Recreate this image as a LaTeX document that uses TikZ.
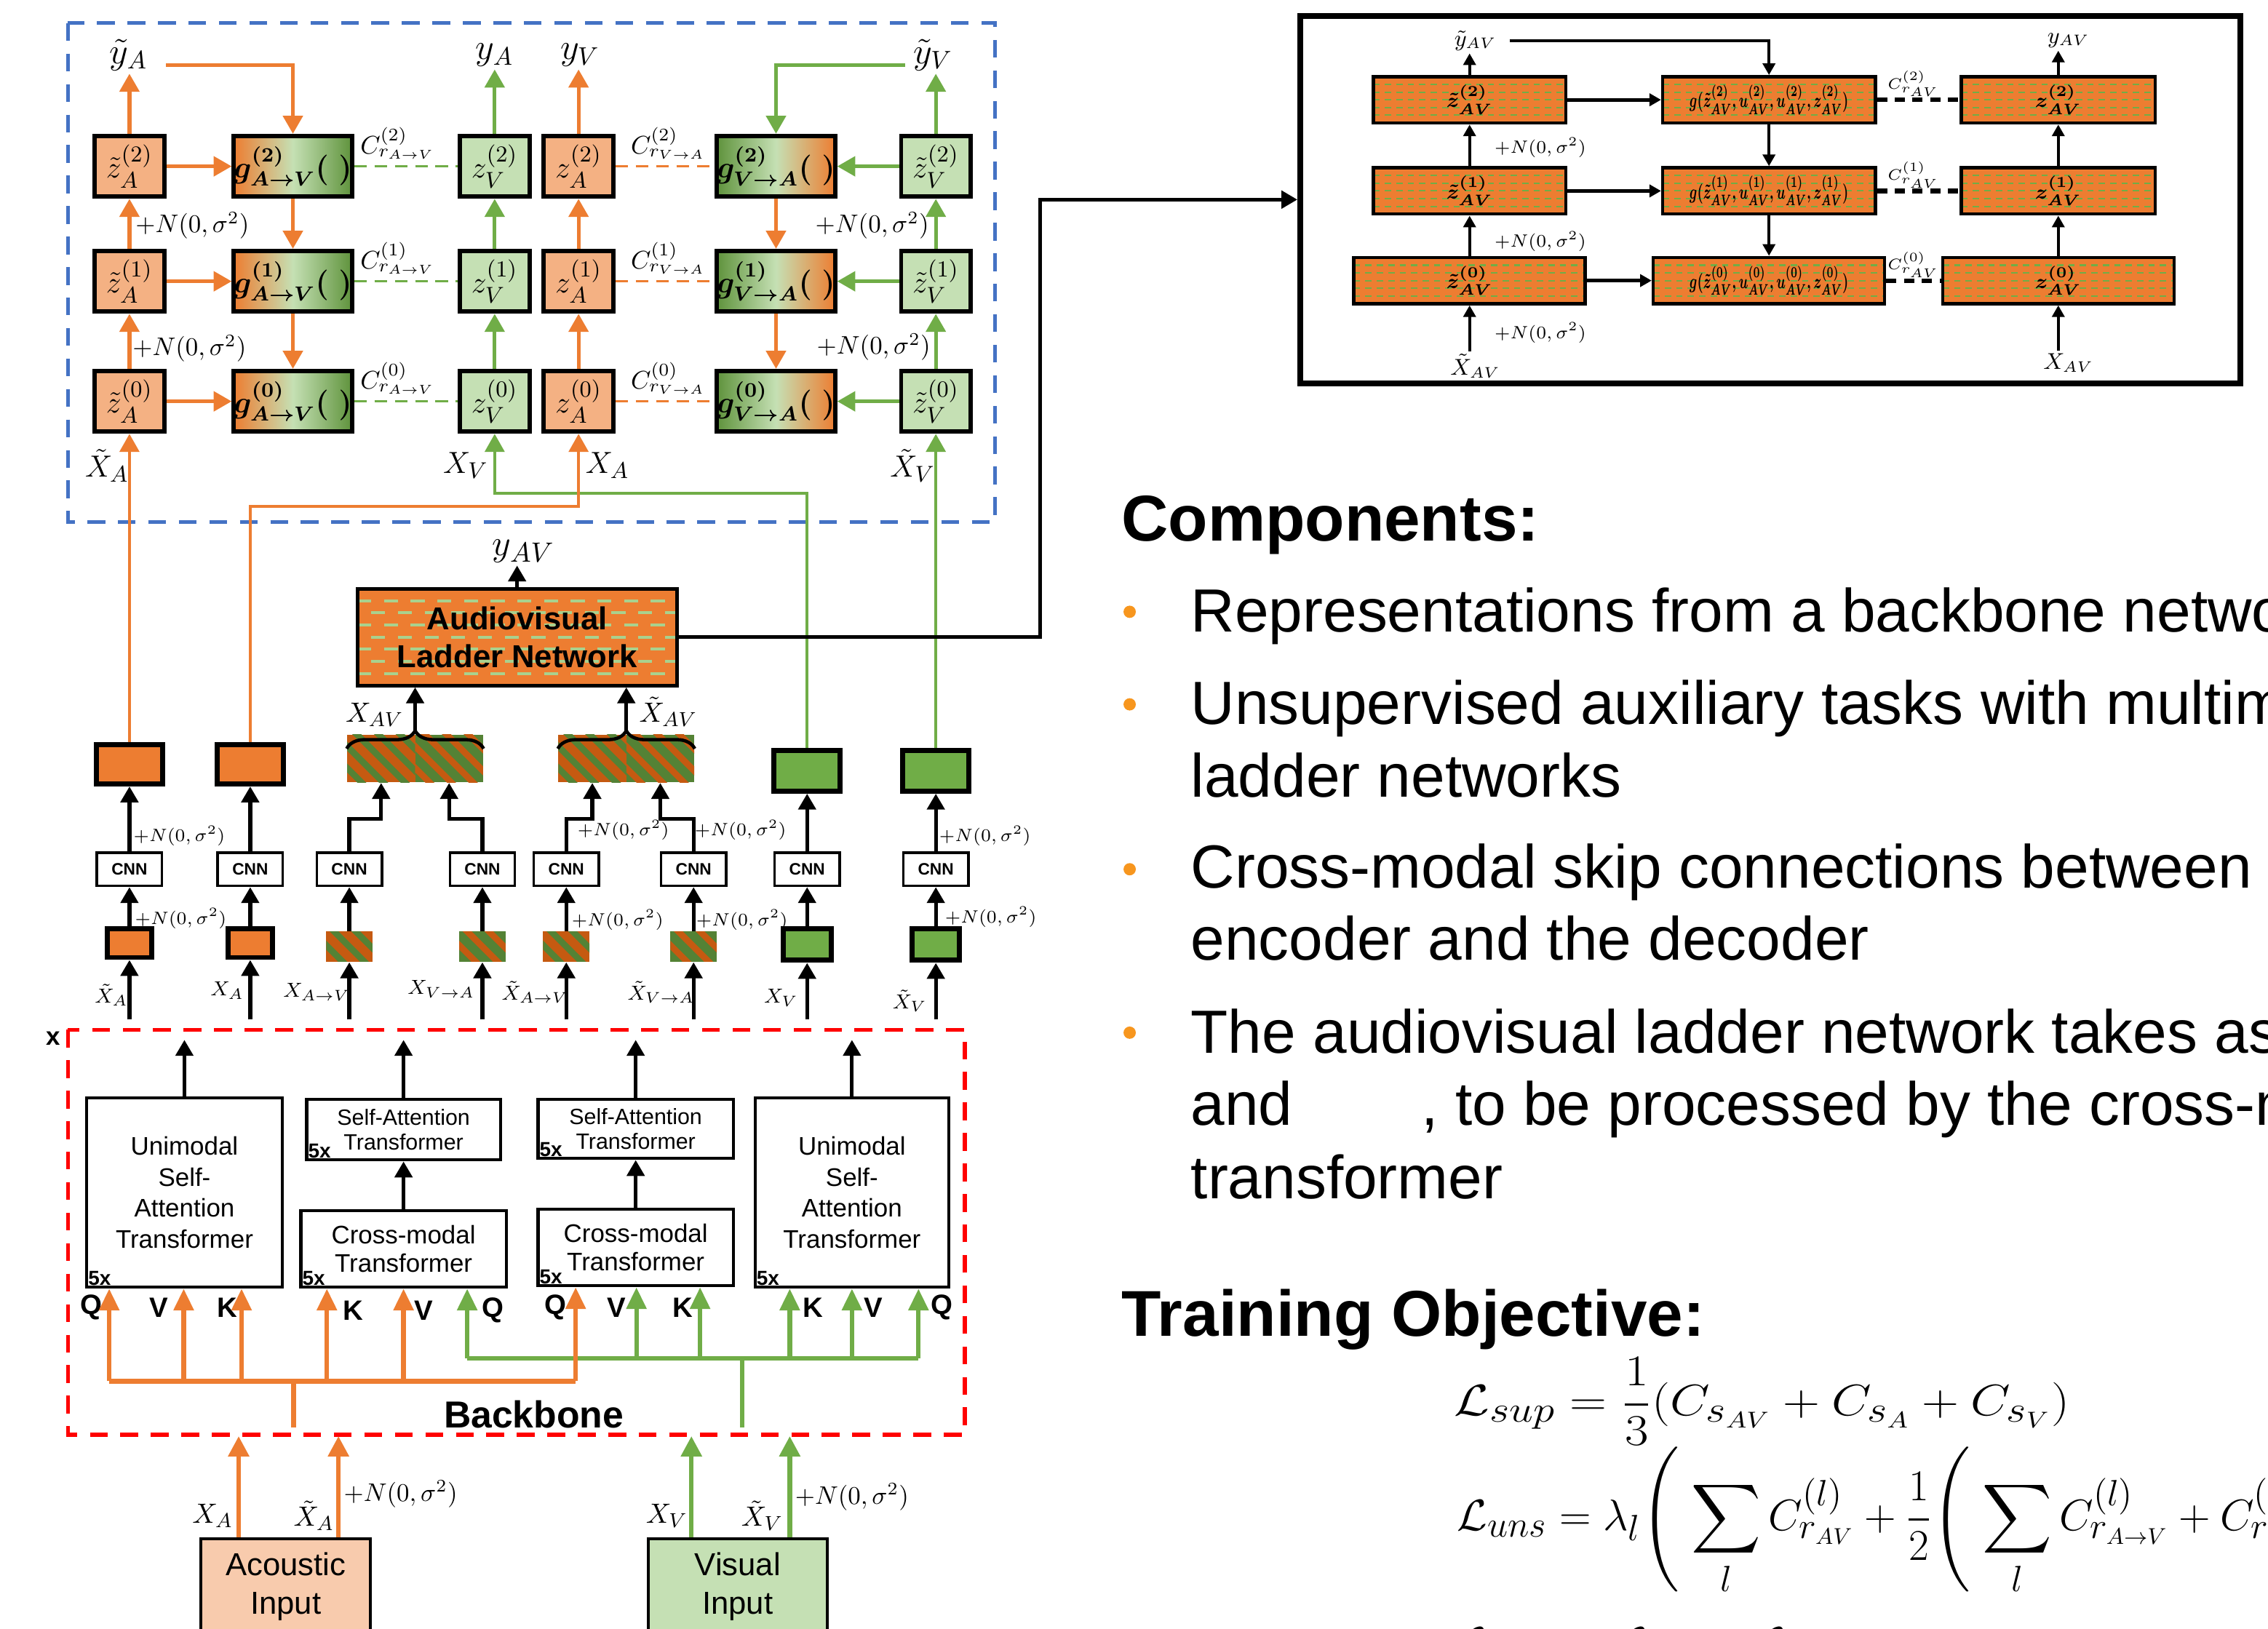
\documentclass[tikz,border=0pt]{standalone}
\usepackage{amsmath,amssymb}
\usepackage{graphicx}
\usepackage{fontspec}
\setmainfont{Liberation Sans}
\usepackage{tikz}
\usetikzlibrary{arrows.meta, calc, decorations.pathreplacing}

\definecolor{ora}{RGB}{237,125,49}
\definecolor{gre}{RGB}{112,173,71}
\definecolor{lora}{RGB}{244,177,131}
\definecolor{lgre}{RGB}{197,224,180}
\definecolor{dora}{RGB}{197,90,17}
\definecolor{dgre}{RGB}{84,130,53}
\definecolor{blu}{RGB}{68,114,196}
\definecolor{inora}{RGB}{248,203,173}
\definecolor{dashgre}{RGB}{169,209,142}
\definecolor{bul}{RGB}{247,150,30}

\newcommand{\fsz}[2]{\fontsize{#1}{#2}\selectfont}

\begin{document}
\begin{tikzpicture}[x=0.02cm, y=-0.02cm,
    zbox/.style={draw, line width=1.7pt, minimum width=0.96cm, minimum height=0.84cm, inner sep=0pt, font=\fsz{12.5}{14}},
    gav/.style={zbox, minimum width=1.58cm, left color=ora, right color=gre!85!black, middle color=lgre, font=\boldmath\fsz{11.5}{13}},
    gva/.style={zbox, minimum width=1.58cm, left color=gre!85!black, right color=ora, middle color=lgre, font=\boldmath\fsz{11.5}{13}},
    lbl/.style={inner sep=1pt, font=\fsz{14.5}{16}},
    xlbl/.style={inner sep=1pt, font=\fsz{12.5}{14}},
    clbl/.style={inner sep=0pt, font=\fsz{10}{12}},
    nz/.style={inner sep=0pt, font=\fsz{10}{12}},
    oarr/.style={ora, line width=1.5pt, -{Triangle[width=0.27cm,length=0.25cm]}},
    garr/.style={gre, line width=1.5pt, -{Triangle[width=0.27cm,length=0.25cm]}},
    oline/.style={oarr, line width=1.2pt},
    gline/.style={garr, line width=1.2pt},
    odash/.style={ora, line width=1pt, dash pattern=on 5pt off 3pt},
    gdash/.style={gre, line width=1pt, dash pattern=on 5pt off 3pt},
    barr/.style={line width=1.5pt, -{Triangle[width=0.24cm,length=0.22cm]}},
    cnn/.style={draw, line width=1pt, fill=white, minimum width=0.9cm, minimum height=0.46cm, inner sep=0pt, font=\bfseries\fsz{6.5}{7}},
    obig/.style={draw, line width=2pt, fill=ora, minimum width=0.92cm, minimum height=0.54cm, inner sep=0pt},
    gbig/.style={obig, fill=gre, minimum height=0.56cm},
    osml/.style={obig, minimum width=0.62cm, minimum height=0.4cm},
    gsml/.style={osml, fill=gre, minimum width=0.66cm, minimum height=0.44cm},
    hatch/.style 2 args={fill=#1, inner sep=0pt, path picture={
        \foreach \k in {-6,...,6}
          \draw[#2, line width=2.5pt] ($(path picture bounding box.center)+(\k*15-40,-40)$) -- ++(80,80);}},
    hbig/.style={minimum width=0.94cm, minimum height=0.66cm},
    hsml/.style={minimum width=0.64cm, minimum height=0.42cm},
    collbl/.style={inner sep=0pt, font=\fsz{8.5}{10}},
    nzs/.style={inner sep=0pt, font=\fsz{7}{8}},
    brc/.style={line width=1.3pt, decorate, decoration={brace, amplitude=0.25cm}},
    lnet/.style={draw, line width=1.4pt, fill=ora, minimum width=4.42cm, minimum height=1.34cm, inner sep=0pt, align=center, font=\bfseries\fsz{12.5}{14.8},
      path picture={
        \foreach \k in {1,3,5,7}
          \draw[dashgre, line width=1.1pt, dash pattern=on 5.5pt off 5pt] ($(path picture bounding box.north west)!\k/8!(path picture bounding box.south west)$) -- ($(path picture bounding box.north east)!\k/8!(path picture bounding box.south east)$);
        \foreach \k in {2,4,6}
          \draw[dashgre, line width=1.1pt, dash pattern=on 5.5pt off 5pt, dash phase=5pt] ($(path picture bounding box.north west)!\k/8!(path picture bounding box.south west)$) -- ($(path picture bounding box.north east)!\k/8!(path picture bounding box.south east)$);}},
    tbox/.style={draw, line width=1.2pt, inner sep=0pt, align=center, font=\fsz{10}{12.2}},
    five/.style={anchor=south west, inner sep=1pt, font=\bfseries\fsz{8}{8}},
    qvk/.style={inner sep=0pt, font=\bfseries\fsz{11}{12}},
    oqa/.style={ora, line width=1.8pt, -{Triangle[width=0.27cm,length=0.3cm]}},
    gqa/.style={gre, line width=1.8pt, -{Triangle[width=0.27cm,length=0.3cm]}},
    obk/.style={ora, line width=1.8pt},
    gbk/.style={gre, line width=1.8pt},
    inbox/.style={draw, line width=1.2pt, minimum width=2.34cm, minimum height=1.32cm, align=center, font=\fsz{12.5}{15.4}},
    oin/.style={ora, line width=1.8pt, -{Triangle[width=0.28cm,length=0.28cm]}},
    gin/.style={gre, line width=1.8pt, -{Triangle[width=0.28cm,length=0.28cm]}},
    avb/.style={draw, line width=1.3pt, fill=ora, inner sep=0pt, minimum height=0.64cm, font=\boldmath\fsz{8}{9},
      path picture={
        \foreach \k in {1,...,5}
          \draw[gre, line width=0.6pt, dash pattern=on 2.5pt off 2pt] ($(path picture bounding box.north west)!\k/6!(path picture bounding box.south west)$) -- ($(path picture bounding box.north east)!\k/6!(path picture bounding box.south east)$);}},
    avarr/.style={line width=1.1pt, -{Triangle[width=0.17cm,length=0.16cm]}},
    avdash/.style={line width=1.8pt, dash pattern=on 4pt off 3pt},
    avlbl/.style={inner sep=1pt, font=\fsz{9}{10}},
    avnz/.style={anchor=west, inner sep=0pt, font=\fsz{7.5}{8}},
    avc/.style={inner sep=0pt, font=\fsz{6.5}{7}},
    head/.style={anchor=base west, inner sep=0pt, font=\bfseries\fsz{25.5}{30}},
    txt/.style={anchor=base west, inner sep=0pt, font=\fsz{24}{29}},
    dot/.style={circle, fill=bul, inner sep=0pt, minimum size=0.17cm},
    eqn/.style={anchor=west, inner sep=0pt, font=\fsz{19}{23}}]

    \useasboundingbox (0,0) rectangle (1568,1126);
    \fill[white] (0,0) rectangle (1568,1126);
    \clip (0,0) rectangle (1568,1126);

    % unimodal ladders
    \draw[blu, line width=1.5pt, dash pattern=on 7pt off 5pt] (47,16) rectangle (688,361);

    \node[zbox, fill=lora] (ta2) at (89.5,115) {$\tilde{z}^{(2)}_A$};
    \node[zbox, fill=lora] (ta1) at (89.5,194.5) {$\tilde{z}^{(1)}_A$};
    \node[zbox, fill=lora] (ta0) at (89.5,277.5) {$\tilde{z}^{(0)}_A$};
    \node[gav] (ga2) at (202.5,115) {$g^{(2)}_{A\to V}(\;)$};
    \node[gav] (ga1) at (202.5,194.5) {$g^{(1)}_{A\to V}(\;)$};
    \node[gav] (ga0) at (202.5,277.5) {$g^{(0)}_{A\to V}(\;)$};
    \node[zbox, fill=lgre] (zv2) at (342,115) {$z^{(2)}_V$};
    \node[zbox, fill=lgre] (zv1) at (342,194.5) {$z^{(1)}_V$};
    \node[zbox, fill=lgre] (zv0) at (342,277.5) {$z^{(0)}_V$};
    \node[zbox, fill=lora] (za2) at (400,115) {$z^{(2)}_A$};
    \node[zbox, fill=lora] (za1) at (400,194.5) {$z^{(1)}_A$};
    \node[zbox, fill=lora] (za0) at (400,277.5) {$z^{(0)}_A$};
    \node[gva] (gv2) at (536.5,115) {$g^{(2)}_{V\to A}(\;)$};
    \node[gva] (gv1) at (536.5,194.5) {$g^{(1)}_{V\to A}(\;)$};
    \node[gva] (gv0) at (536.5,277.5) {$g^{(0)}_{V\to A}(\;)$};
    \node[zbox, fill=lgre] (tv2) at (647,115) {$\tilde{z}^{(2)}_V$};
    \node[zbox, fill=lgre] (tv1) at (647,194.5) {$\tilde{z}^{(1)}_V$};
    \node[zbox, fill=lgre] (tv0) at (647,277.5) {$\tilde{z}^{(0)}_V$};

    \node[lbl] (yta) at (89,38) {$\tilde{y}_A$};
    \node[lbl] (ya) at (342,38) {$y_A$};
    \node[lbl] (yv) at (401,38) {$y_V$};
    \node[lbl] (ytv) at (645,38) {$\tilde{y}_V$};
    \node[xlbl] (xta) at (74,322) {$\tilde{X}_A$};
    \node[xlbl] (xv) at (322,322) {$X_V$};
    \node[xlbl] (xa) at (420,322) {$X_A$};
    \node[xlbl] (xtv) at (631,322) {$\tilde{X}_V$};

    \node[clbl] (c2a) at (275,99) {$C^{(2)}_{r_{A\to V}}$};
    \node[clbl] (c1a) at (275,178.5) {$C^{(1)}_{r_{A\to V}}$};
    \node[clbl] (c0a) at (275,261.5) {$C^{(0)}_{r_{A\to V}}$};
    \node[clbl] (c2v) at (462,99) {$C^{(2)}_{r_{V\to A}}$};
    \node[clbl] (c1v) at (462,178.5) {$C^{(1)}_{r_{V\to A}}$};
    \node[clbl] (c0v) at (462,261.5) {$C^{(0)}_{r_{V\to A}}$};
    \node[nz] (nza2) at (133,156) {$+N(0,\sigma^2)$};
    \node[nz] (nza1) at (131,241) {$+N(0,\sigma^2)$};
    \node[nz] (nzv2) at (603,156) {$+N(0,\sigma^2)$};
    \node[nz] (nzv1) at (604,240) {$+N(0,\sigma^2)$};

    \draw[oarr] (ta0) -- (ta1);
    \draw[oarr] (ta1) -- (ta2);
    \draw[oarr] (ta2.north) -- (ta2.north |- yta.south);
    \draw[oarr] ([xshift=6pt, yshift=-4pt]yta.east) -| (ga2.north);
    \draw[oarr] (ta2) -- (ga2);
    \draw[oarr] (ta1) -- (ga1);
    \draw[oarr] (ta0) -- (ga0);
    \draw[oarr] (ga2) -- (ga1);
    \draw[oarr] (ga1) -- (ga0);
    \draw[gdash] (ga2) -- (zv2);
    \draw[gdash] (ga1) -- (zv1);
    \draw[gdash] (ga0) -- (zv0);
    \draw[garr] (zv0) -- (zv1);
    \draw[garr] (zv1) -- (zv2);
    \draw[garr] (zv2) -- (ya);
    \draw[oarr] (za0) -- (za1);
    \draw[oarr] (za1) -- (za2);
    \draw[oarr] (za2.north) -- (za2.north |- yv.south);
    \draw[odash] (za2) -- (gv2);
    \draw[odash] (za1) -- (gv1);
    \draw[odash] (za0) -- (gv0);
    \draw[garr] ([xshift=-2pt, yshift=-4pt]ytv.west) -| (gv2.north);
    \draw[oarr] (gv2) -- (gv1);
    \draw[oarr] (gv1) -- (gv0);
    \draw[garr] (tv2) -- (gv2);
    \draw[garr] (tv1) -- (gv1);
    \draw[garr] (tv0) -- (gv0);
    \draw[garr] (tv0) -- (tv1);
    \draw[garr] (tv1) -- (tv2);
    \draw[garr] (tv2.north) -- (tv2.north |- ytv.south);

    % encoders below the ladders
    \node[obig] (bxa1) at (89.5,528.5) {};
    \node[obig] (bxa2) at (173,528.5) {};
    \node[gbig] (bxv1) at (558,533) {};
    \node[gbig] (bxv2) at (647,533) {};
    \node[hatch={dora}{dgre}, hbig] (pl1) at (263.5,524.5) {};
    \node[hatch={dgre}{dora}, hbig] (pl2) at (310.5,524.5) {};
    \node[hatch={dora}{dgre}, hbig] (pr1) at (409.5,524.5) {};
    \node[hatch={dgre}{dora}, hbig] (pr2) at (456.5,524.5) {};

    \node[cnn] (cnn1) at (89.5,601) {CNN};
    \node[cnn] (cnn2) at (173,601) {CNN};
    \node[cnn] (cnn3) at (241.5,601) {CNN};
    \node[cnn] (cnn4) at (333.5,601) {CNN};
    \node[cnn] (cnn5) at (391.5,601) {CNN};
    \node[cnn] (cnn6) at (479.5,601) {CNN};
    \node[cnn] (cnn7) at (558,601) {CNN};
    \node[cnn] (cnn8) at (647,601) {CNN};

    \node[osml] (sa1) at (89.5,652) {};
    \node[osml] (sa2) at (173,652) {};
    \node[hatch={dora}{dgre}, hsml] (sh3) at (241.5,654.5) {};
    \node[hatch={dgre}{dora}, hsml] (sh4) at (333.5,654.5) {};
    \node[hatch={dora}{dgre}, hsml] (sh5) at (391.5,654.5) {};
    \node[hatch={dgre}{dora}, hsml] (sh6) at (479.5,654.5) {};
    \node[gsml] (sv7) at (558,653) {};
    \node[gsml] (sv8) at (647,653) {};

    \node[collbl] (lx1) at (77,688) {$\tilde{X}_A$};
    \node[collbl] (lx2) at (157,685) {$X_A$};
    \node[collbl] (lx3) at (219,686) {$X_{A\to V}$};
    \node[collbl] (lx4) at (305,684) {$X_{V\to A}$};
    \node[collbl] (lx5) at (370,686) {$\tilde{X}_{A\to V}$};
    \node[collbl] (lx6) at (457,686) {$\tilde{X}_{V\to A}$};
    \node[collbl] (lx7) at (540,690) {$X_V$};
    \node[collbl] (lx8) at (629,692) {$\tilde{X}_V$};

    \node[nzs] (ns1) at (124,578) {$+N(0,\sigma^2)$};
    \node[nzs] (ns2) at (125,635) {$+N(0,\sigma^2)$};
    \node[nzs] (ns3) at (431,574) {$+N(0,\sigma^2)$};
    \node[nzs] (ns4) at (427,636) {$+N(0,\sigma^2)$};
    \node[nzs] (ns5) at (512,574) {$+N(0,\sigma^2)$};
    \node[nzs] (ns6) at (513,636) {$+N(0,\sigma^2)$};
    \node[nzs] (ns7) at (681,578) {$+N(0,\sigma^2)$};
    \node[nzs] (ns8) at (685,634) {$+N(0,\sigma^2)$};

    \coordinate (colbot) at (0,705);
    \coordinate (elb) at (0,566);
    \draw[barr] (sa1.south |- colbot) -- (sa1);
    \draw[barr] (sa1) -- (cnn1);
    \draw[barr] (cnn1) -- (bxa1);
    \draw[barr] (sa2.south |- colbot) -- (sa2);
    \draw[barr] (sa2) -- (cnn2);
    \draw[barr] (cnn2) -- (bxa2);
    \draw[barr] (sh3.south |- colbot) -- (sh3);
    \draw[barr] (sh3) -- (cnn3);
    \draw[barr] (cnn3.north) |- (pl1.south |- elb) -- (pl1.south);
    \draw[barr] (sh4.south |- colbot) -- (sh4);
    \draw[barr] (sh4) -- (cnn4);
    \draw[barr] (cnn4.north) |- (pl2.south |- elb) -- (pl2.south);
    \draw[barr] (sh5.south |- colbot) -- (sh5);
    \draw[barr] (sh5) -- (cnn5);
    \draw[barr] (cnn5.north) |- (pr1.south |- elb) -- (pr1.south);
    \draw[barr] (sh6.south |- colbot) -- (sh6);
    \draw[barr] (sh6) -- (cnn6);
    \draw[barr] (cnn6.north) |- (pr2.south |- elb) -- (pr2.south);
    \draw[barr] (sv7.south |- colbot) -- (sv7);
    \draw[barr] (sv7) -- (cnn7);
    \draw[barr] (cnn7) -- (bxv1);
    \draw[barr] (sv8.south |- colbot) -- (sv8);
    \draw[barr] (sv8) -- (cnn8);
    \draw[barr] (cnn8) -- (bxv2);

    % skip lines into the ladders
    \coordinate (ojog) at (0,350);
    \coordinate (gjog) at (0,341);
    \draw[gline] (bxv1.north) |- (zv0.south |- gjog) -- (zv0.south);
    \draw[gline] (bxv2) -- (tv0);
    \draw[oline] (bxa1) -- (ta0);
    \draw[oline] (bxa2.north) |- (za0.south |- ojog) -- (za0.south);

    % audiovisual ladder
    \node[lnet] (lnet) at (357.5,440.5) {Audiovisual\\Ladder Network};
    \node[lbl, font=\fsz{15}{16}] (yav) at (362,381) {$y_{AV}$};
    \draw[barr] (lnet.north) -- (lnet.north |- yav.south);
    \draw[brc] ([yshift=-0.2cm]pl1.north west) -- ([yshift=-0.2cm]pl2.north east);
    \draw[brc] ([yshift=-0.2cm]pr1.north west) -- ([yshift=-0.2cm]pr2.north east);
    \coordinate (bl) at (287,506);
    \coordinate (br) at (433,506);
    \draw[barr] (bl) -- (bl |- lnet.south);
    \draw[barr] (br) -- (br |- lnet.south);
    \node[lbl, font=\fsz{11}{12}] (xav) at (259,494) {$X_{AV}$};
    \node[lbl, font=\fsz{11}{12}] (xtav) at (462,492) {$\tilde{X}_{AV}$};

    % backbone
    \draw[red, line width=1.5pt, dash pattern=on 7pt off 5pt] (47,712) rectangle (667,992);
    \node[inner sep=0pt, font=\bfseries\fsz{10}{11}] (xmark) at (37,718) {x};
    \node[tbox, minimum width=2.7cm, minimum height=2.62cm] (uniL) at (127.5,824.5) {Unimodal\\Self-\\Attention\\Transformer};
    \node[tbox, minimum width=2.68cm, minimum height=0.84cm, font=\fsz{8.7}{9.7}] (sa2b) at (279,781) {Self-Attention\\Transformer};
    \node[tbox, minimum width=2.84cm, minimum height=1.06cm, font=\fsz{10}{11.4}] (cm2) at (279,863.5) {Cross-modal\\Transformer};
    \node[tbox, minimum width=2.7cm, minimum height=0.82cm, font=\fsz{8.7}{9.7}] (sa3b) at (439.5,780.5) {Self-Attention\\Transformer};
    \node[tbox, minimum width=2.7cm, minimum height=1.06cm, font=\fsz{10}{11.4}] (cm3) at (439.5,862.5) {Cross-modal\\Transformer};
    \node[tbox, minimum width=2.68cm, minimum height=2.62cm] (uniR) at (589,824.5) {Unimodal\\Self-\\Attention\\Transformer};
    \node[five] (f1) at (uniL.south west) {5x};
    \node[five] (f2) at (sa2b.south west) {5x};
    \node[five] (f3) at (cm2.south west) {5x};
    \node[five] (f4) at (sa3b.south west) {5x};
    \node[five] (f5) at (cm3.south west) {5x};
    \node[five] (f6) at (uniR.south west) {5x};

    \coordinate (bbtop) at (0,719);
    \draw[barr] (uniL.north) -- (uniL.north |- bbtop);
    \draw[barr] (cm2) -- (sa2b);
    \draw[barr] (sa2b.north) -- (sa2b.north |- bbtop);
    \draw[barr] (cm3) -- (sa3b);
    \draw[barr] (sa3b.north) -- (sa3b.north |- bbtop);
    \draw[barr] (uniR.north) -- (uniR.north |- bbtop);

    \node[qvk] (q1) at (63,904) {Q};
    \node[qvk] (v1) at (110,904) {V};
    \node[qvk] (k1) at (157,904) {K};
    \node[qvk] (k2) at (244,906) {K};
    \node[qvk] (v2) at (293,906) {V};
    \node[qvk] (q2) at (341,906) {Q};
    \node[qvk] (q3) at (384,904) {Q};
    \node[qvk] (v3) at (426,904) {V};
    \node[qvk] (k3) at (472,904) {K};
    \node[qvk] (k4) at (562,904) {K};
    \node[qvk] (v4) at (604,904) {V};
    \node[qvk] (q4) at (651,904) {Q};

    \coordinate (ok1) at (75.5,955);
    \coordinate (ok2) at (127,955);
    \coordinate (ok3) at (167,955);
    \coordinate (ok4) at (226,955);
    \coordinate (ok5) at (279,955);
    \coordinate (ok6) at (398,955);
    \coordinate (obase) at (203,987);
    \coordinate (gk1) at (323,939);
    \coordinate (gk2) at (440,939);
    \coordinate (gk3) at (484,939);
    \coordinate (gk4) at (546,939);
    \coordinate (gk5) at (589,939);
    \coordinate (gk6) at (635,939);
    \coordinate (gbase) at (513,987);

    \draw[gbk] (gk1) -- (gk6);
    \draw[gbk] (gbase) -- (gbase |- gk1);
    \draw[gqa] (gk1) -- (gk1 |- cm2.south);
    \draw[gqa] (gk2) -- (gk2 |- cm3.south);
    \draw[gqa] (gk3) -- (gk3 |- cm3.south);
    \draw[gqa] (gk4) -- (gk4 |- uniR.south);
    \draw[gqa] (gk5) -- (gk5 |- uniR.south);
    \draw[gqa] (gk6) -- (gk6 |- uniR.south);
    \draw[obk] (ok1) -- (ok6);
    \draw[obk] (obase) -- (obase |- ok1);
    \draw[oqa] (ok1) -- (ok1 |- uniL.south);
    \draw[oqa] (ok2) -- (ok2 |- uniL.south);
    \draw[oqa] (ok3) -- (ok3 |- uniL.south);
    \draw[oqa] (ok4) -- (ok4 |- cm2.south);
    \draw[oqa] (ok5) -- (ok5 |- cm2.south);
    \draw[oqa] (ok6) -- (ok6 |- cm3.south);

    \node[inner sep=0pt, font=\bfseries\fsz{14.8}{16}] (bbl) at (369,978) {Backbone};

    % inputs
    \coordinate (bbbot) at (0,993);
    \node[inbox, fill=inora] (acin) at (197.5,1097) {Acoustic\\Input};
    \node[inbox, fill=lgre, minimum width=2.48cm] (visin) at (510,1097) {Visual\\Input};
    \draw[oin] ([xshift=-0.65cm]acin.north) -- ([xshift=-0.65cm]acin.north |- bbbot);
    \draw[oin] ([xshift=0.73cm]acin.north) -- ([xshift=0.73cm]acin.north |- bbbot);
    \draw[gin] ([xshift=-0.64cm]visin.north) -- ([xshift=-0.64cm]visin.north |- bbbot);
    \draw[gin] ([xshift=0.72cm]visin.north) -- ([xshift=0.72cm]visin.north |- bbbot);
    \node[lbl, font=\fsz{11}{12}] (ixa) at (147,1048) {$X_A$};
    \node[lbl, font=\fsz{11}{12}] (ixta) at (217,1048) {$\tilde{X}_A$};
    \node[nz] (inza) at (277,1033) {$+N(0,\sigma^2)$};
    \node[lbl, font=\fsz{11}{12}] (ixv) at (461,1048) {$X_V$};
    \node[lbl, font=\fsz{11}{12}] (ixtv) at (527,1048) {$\tilde{X}_V$};
    \node[nz] (inzv) at (589,1035) {$+N(0,\sigma^2)$};

    % zoomed audiovisual ladder
    \node[draw, line width=2.4pt, minimum width=13cm, minimum height=5.08cm, inner sep=0pt] (avbox) at (1224,138) {};
    \coordinate (turn) at (719,0);
    \draw[line width=1.5pt, -{Triangle[width=0.24cm,length=0.22cm]}] (lnet.east) -| (turn |- avbox.west) -- (avbox.west);

    \node[avb, minimum width=2.66cm] (lz2) at (1016,69) {$\tilde{z}^{(2)}_{AV}$};
    \node[avb, minimum width=2.66cm] (lz1) at (1016,132) {$\tilde{z}^{(1)}_{AV}$};
    \node[avb, minimum width=3.2cm] (lz0) at (1016,194) {$\tilde{z}^{(0)}_{AV}$};
    \node[avb, minimum width=2.94cm] (mg2) at (1223,69) {\scalebox{0.62}[1]{$g(\tilde{z}^{(2)}_{AV},u^{(2)}_{AV},u^{(2)}_{AV},z^{(2)}_{AV})$}};
    \node[avb, minimum width=2.94cm] (mg1) at (1223,132) {\scalebox{0.62}[1]{$g(\tilde{z}^{(1)}_{AV},u^{(1)}_{AV},u^{(1)}_{AV},z^{(1)}_{AV})$}};
    \node[avb, minimum width=3.2cm] (mg0) at (1223,194) {\scalebox{0.62}[1]{$g(\tilde{z}^{(0)}_{AV},u^{(0)}_{AV},u^{(0)}_{AV},z^{(0)}_{AV})$}};
    \node[avb, minimum width=2.68cm] (rz2) at (1423,69) {$z^{(2)}_{AV}$};
    \node[avb, minimum width=2.68cm] (rz1) at (1423,132) {$z^{(1)}_{AV}$};
    \node[avb, minimum width=3.2cm] (rz0) at (1423,194) {$z^{(0)}_{AV}$};

    \node[avlbl] (ytavr) at (1020,28) {$\tilde{y}_{AV}$};
    \node[avlbl] (yavr) at (1430,28) {$y_{AV}$};
    \node[avlbl] (xtavr) at (1020,253) {$\tilde{X}_{AV}$};
    \node[avlbl] (xavr) at (1430,251) {$X_{AV}$};
    \node[avnz] (avn2) at (1033,102) {$+N(0,\sigma^2)$};
    \node[avnz] (avn1) at (1033,167) {$+N(0,\sigma^2)$};
    \node[avnz] (avn0) at (1033,230) {$+N(0,\sigma^2)$};
    \node[avc] (avc2) at (1323,58) {$C^{(2)}_{r_{AV}}$};
    \node[avc] (avc1) at (1323,121) {$C^{(1)}_{r_{AV}}$};
    \node[avc] (avc0) at (1323,183) {$C^{(0)}_{r_{AV}}$};

    \draw[avarr] (lz0.south |- xtavr.north) -- (lz0.south);
    \draw[avarr] (lz0) -- (lz1);
    \draw[avarr] (lz1) -- (lz2);
    \draw[avarr] (lz2.north) -- (lz2.north |- ytavr.south);
    \draw[avarr] ([xshift=4pt]ytavr.east) -| (mg2.north);
    \draw[avarr, line width=1.5pt] (lz2) -- (mg2);
    \draw[avarr, line width=1.5pt] (lz1) -- (mg1);
    \draw[avarr, line width=1.5pt] (lz0) -- (mg0);
    \draw[avarr] (mg2) -- (mg1);
    \draw[avarr] (mg1) -- (mg0);
    \draw[avdash] (mg2) -- (rz2);
    \draw[avdash] (mg1) -- (rz1);
    \draw[avdash] (mg0) -- (rz0);
    \draw[avarr] (rz0.south |- xavr.north) -- (rz0.south);
    \draw[avarr] (rz0) -- (rz1);
    \draw[avarr] (rz1) -- (rz2);
    \draw[avarr] (rz2.north) -- (rz2.north |- yavr.south);

    % text panel
    \node[head] (comp) at (775,374) {Components:};
    \node[dot] (d1) at (781,423) {};
    \node[txt] (t1) at (823,437) {Representations from a backbone network};
    \node[dot] (d2) at (781,487) {};
    \node[txt] (t2) at (823,501) {Unsupervised auxiliary tasks with multimodal};
    \node[txt] (t3) at (823,551) {ladder networks};
    \node[dot] (d3) at (781,601) {};
    \node[txt] (t4) at (823,614) {Cross-modal skip connections between};
    \node[txt] (t5) at (823,664) {encoder and the decoder};
    \node[dot] (d4) at (781,714) {};
    \node[txt] (t6) at (823,728) {The audiovisual ladder network takes as input};
    \node[txt] (t7) at (823,778) {and\hspace{1.78cm}, to be processed by the cross-modal};
    \node[txt] (t8) at (823,829) {transformer};
    \node[head] (tobj) at (775,924) {Training Objective:};
    \node[eqn] (lsup) at (1005,969) {\scalebox{1.17}[1]{$\displaystyle \mathcal{L}_{sup} = \frac{1}{3}(C_{s_{AV}} + C_{s_A} + C_{s_V})$}};
    \node[eqn] (luns) at (1007,1052) {$\displaystyle \mathcal{L}_{uns} = \lambda_l \Biggl(\; \sum_l C^{(l)}_{r_{AV}} + \frac{1}{2} \Biggl(\; \sum_l C^{(l)}_{r_{A\to V}} + C^{(l)}_{r_{V\to A}} \Biggr) \Biggr)$};
    \node[eqn, anchor=base west] (ltot) at (1007,1146) {$\mathcal{L}_{total} = \mathcal{L}_{sup} + \mathcal{L}_{uns}$};
\end{tikzpicture}
\end{document}
